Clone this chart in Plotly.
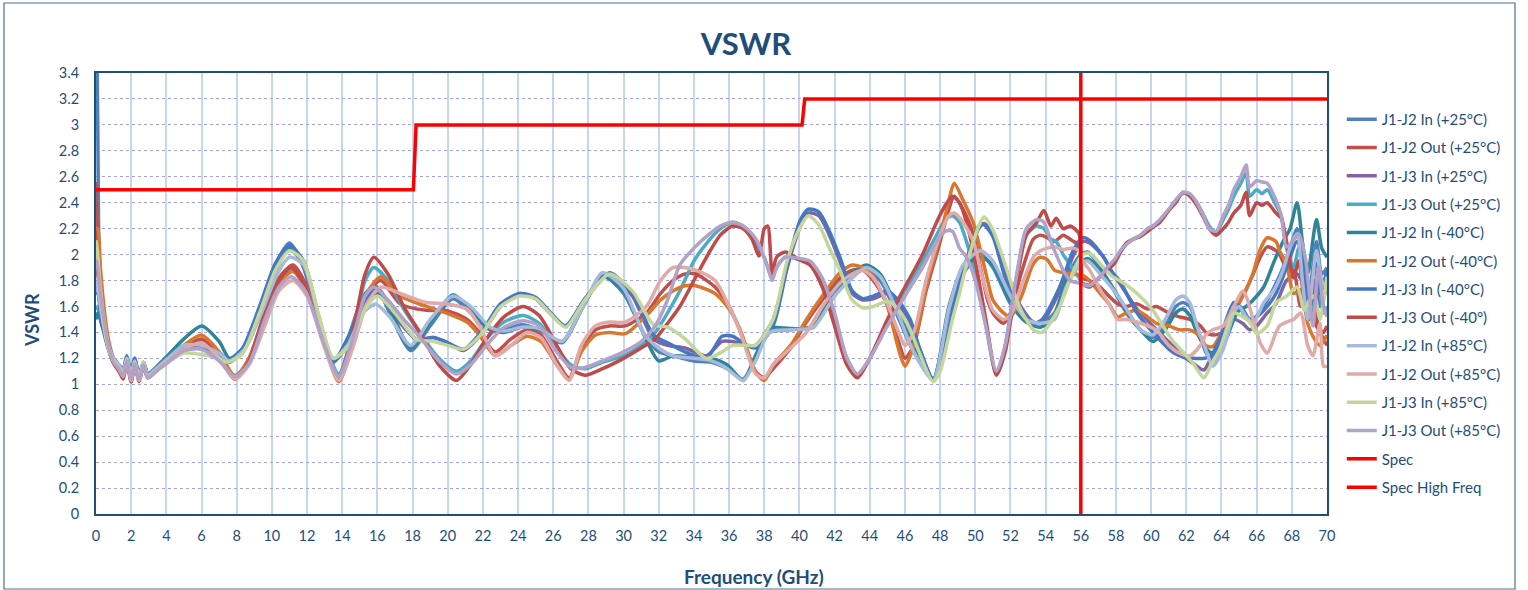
import plotly.graph_objects as go

# ---------------- data ----------------
freq_start = [0, 0.1, 0.25, 0.45, 0.7, 1.0, 1.3, 1.55, 1.75, 2.0, 2.2, 2.45, 2.7, 2.95, 3.4, 4.0, 5.0]

freq_j12_in = freq_start + [
    6.0, 7.0, 7.6, 8.5, 9.5, 10.3, 11.0, 11.8, 12.7, 13.5,
    14.3, 15.2, 15.9, 16.7, 17.9, 19.0, 20.3, 21.3, 22.4, 23.2,
    24.2, 25.2, 26.5, 27.7, 28.8, 30.0, 31.2, 32.0, 32.8, 34.0,
    35.0, 35.9, 36.8, 37.5, 38.3, 39.5, 40.8, 42.0, 43.0, 43.8,
    44.6, 45.5, 46.5, 47.6, 48.5, 49.3, 50.3, 51.0, 52.0, 52.9,
    53.7, 54.5, 55.2, 56.0, 56.4, 57.1, 57.9, 58.6, 59.4, 60.1,
    60.8, 61.4, 61.8, 62.2, 62.6, 63.1, 63.5, 64.1, 64.7, 65.0,
    65.4, 65.8, 66.4, 67.0, 67.5, 67.9, 68.3, 68.6, 68.9, 69.4,
    69.7, 70.0]

freq_j12_out = freq_start + [
    6.0, 7.0, 7.9, 8.7, 9.6, 10.4, 11.2, 12.0, 13.0, 13.8,
    14.6, 15.4, 16.2, 17.3, 18.8, 19.9, 21.1, 21.8, 22.7, 23.6,
    24.5, 25.3, 26.2, 26.9, 27.6, 28.4, 29.2, 30.1, 31.3, 32.1,
    32.8, 33.5, 34.1, 35.2, 36.0, 36.6, 37.5, 38.0, 38.5, 39.5,
    40.4, 41.3, 42.3, 43.0, 43.6, 44.2, 45.0, 45.7, 46.0, 46.5,
    47.2, 48.0, 48.5, 48.8, 49.3, 49.9, 50.3, 50.7, 51.0, 51.6,
    52.0, 52.6, 53.3, 53.7, 54.1, 54.5, 55.0, 55.6, 55.95, 56.1,
    56.5, 57.1, 57.6, 58.1, 58.6, 59.2, 59.8, 60.3, 61.0, 61.6,
    62.2, 62.8, 63.1, 63.5, 64.1, 64.7, 65.2, 65.4, 65.8, 66.2,
    66.6, 67.1, 67.3, 67.7, 68.1, 68.5, 68.9, 69.2, 69.6, 69.8,
    70.0]

freq_j13_in = freq_start + [
    6.0, 7.0, 7.4, 8.3, 9.3, 10.2, 11.0, 11.8, 12.7, 13.5,
    14.4, 15.3, 16.0, 17.0, 18.2, 19.2, 20.0, 20.9, 22.0, 23.0,
    24.1, 25.0, 25.8, 26.7, 27.8, 29.2, 30.5, 31.7, 32.5, 33.5,
    34.7, 35.6, 36.2, 37.0, 37.5, 38.5, 39.3, 40.0, 40.5, 41.1,
    41.7, 42.3, 43.0, 43.6, 44.2, 45.0, 45.6, 46.3, 46.8, 47.6,
    48.0, 48.7, 49.1, 49.5, 50.2, 50.5, 51.0, 51.8, 52.5, 53.3,
    53.8, 54.8, 55.6, 56.1, 56.5, 57.3, 57.8, 58.2, 59.2, 60.1,
    61.2, 62.0, 62.4, 63.0, 63.4, 63.9, 64.7, 65.2, 65.6, 66.0,
    66.6, 67.1, 67.7, 68.3, 68.7, 69.0, 69.3, 69.6, 70.0]

freq_j13_out = freq_start + [
    6.0, 7.0, 7.9, 8.7, 9.6, 10.4, 11.1, 11.9, 13.0, 13.8,
    14.6, 15.3, 15.8, 16.6, 17.5, 18.5, 19.5, 20.5, 21.3, 22.2,
    23.2, 24.3, 25.2, 26.2, 27.0, 27.8, 28.8, 30.0, 31.0, 31.8,
    32.5, 33.2, 34.0, 34.8, 35.5, 36.2, 36.8, 37.3, 37.7, 38.0,
    38.2, 38.45, 38.7, 39.2, 40.0, 40.6, 41.3, 42.0, 42.7, 43.3,
    44.0, 45.0, 46.0, 47.0, 47.8, 48.3, 48.7, 49.1, 49.5, 50.0,
    50.6, 51.2, 51.7, 52.3, 52.9, 53.5, 53.9, 54.3, 54.6, 55.0,
    55.4, 55.9, 56.05, 56.5, 57.1, 57.5, 57.9, 58.3, 58.6, 59.0,
    59.4, 59.8, 60.1, 60.5, 61.0, 61.4, 61.8, 62.2, 62.6, 63.0,
    63.3, 63.7, 64.1, 64.4, 64.7, 65.1, 65.4, 65.6, 66.0, 66.3,
    66.6, 67.1, 67.4, 67.7, 68.1, 68.4, 68.8, 69.2, 69.5, 69.8,
    70.0]

# J1-J2 In
j12_in_p25 = [4.2, 3.0, 1.6, 1.45, 1.3, 1.2, 1.15, 1.12, 1.22, 1.1, 1.2, 1.08, 1.17, 1.08, 1.12, 1.19, 1.3,
    1.33, 1.25, 1.17, 1.3, 1.65, 1.95, 2.09, 1.9, 1.45, 1.17,
    1.35, 1.68, 1.76, 1.55, 1.26, 1.45, 1.66, 1.55, 1.42, 1.42,
    1.46, 1.42, 1.32, 1.6, 1.84, 1.7, 1.38, 1.25, 1.22, 1.18,
    1.17, 1.12, 1.04, 1.2, 1.4, 1.42, 1.45, 1.7, 1.85, 1.88,
    1.8, 1.55, 1.25, 1.04, 1.55, 1.85, 2.0, 1.9, 1.62, 1.48,
    1.47, 1.55, 1.82, 2.0, 2.02, 1.9, 1.72, 1.55, 1.42, 1.36,
    1.45, 1.6, 1.63, 1.6, 1.45, 1.25, 1.17, 1.35, 1.63, 1.6,
    1.52, 1.5, 1.6, 1.75, 1.9, 2.05, 2.2, 1.9, 1.6, 2.1,
    1.85, 1.9]
j12_in_m40 = [1.5, 1.55, 1.5, 1.4, 1.28, 1.18, 1.14, 1.1, 1.2, 1.08, 1.18, 1.07, 1.16, 1.08, 1.13, 1.21, 1.35,
    1.45, 1.33, 1.2, 1.3, 1.6, 1.9, 2.05, 1.95, 1.5, 1.18,
    1.35, 1.62, 1.72, 1.58, 1.28, 1.48, 1.69, 1.58, 1.43, 1.4,
    1.44, 1.42, 1.33, 1.6, 1.83, 1.72, 1.37, 1.18, 1.22, 1.21,
    1.2, 1.15, 1.03, 1.22, 1.43, 1.43, 1.44, 1.74, 1.86, 1.92,
    1.85, 1.6, 1.3, 1.04, 1.6, 1.9, 1.98, 1.92, 1.64, 1.48,
    1.44, 1.52, 1.8, 1.94, 1.97, 1.88, 1.73, 1.57, 1.42, 1.33,
    1.42, 1.55, 1.58, 1.53, 1.4, 1.28, 1.24, 1.3, 1.5, 1.57,
    1.6, 1.65, 1.75, 1.95, 2.1, 2.2, 2.4, 2.1, 1.85, 2.27,
    2.05, 1.98]
j12_in_p85 = [1.8, 1.75, 1.6, 1.45, 1.3, 1.2, 1.15, 1.1, 1.2, 1.07, 1.18, 1.06, 1.16, 1.07, 1.12, 1.19, 1.3,
    1.3, 1.24, 1.18, 1.28, 1.58, 1.85, 1.98, 1.92, 1.5, 1.2,
    1.3, 1.55, 1.62, 1.52, 1.3, 1.5, 1.68, 1.6, 1.44, 1.41,
    1.44, 1.43, 1.33, 1.6, 1.86, 1.74, 1.38, 1.28, 1.22, 1.2,
    1.18, 1.12, 1.03, 1.18, 1.4, 1.42, 1.44, 1.68, 1.82, 1.9,
    1.83, 1.58, 1.25, 1.03, 1.58, 1.92, 2.03, 1.95, 1.68, 1.5,
    1.47, 1.5, 1.76, 1.93, 1.95, 1.85, 1.72, 1.58, 1.42, 1.38,
    1.5, 1.65, 1.68, 1.63, 1.45, 1.27, 1.14, 1.27, 1.55, 1.6,
    1.52, 1.47, 1.63, 1.73, 1.88, 2.06, 2.16, 1.8, 1.5, 2.03,
    1.8, 1.73]

# J1-J2 Out
j12_out_p25 = [2.56, 2.1, 1.7, 1.5, 1.3, 1.18, 1.12, 1.05, 1.18, 1.02, 1.15, 1.03, 1.14, 1.05, 1.1, 1.17, 1.28,
    1.35, 1.22, 1.04, 1.2, 1.55, 1.82, 1.92, 1.75, 1.3, 1.05,
    1.3, 1.7, 1.8, 1.62, 1.57, 1.57, 1.5, 1.4, 1.25, 1.35,
    1.42, 1.38, 1.18, 1.05, 1.28, 1.42, 1.45, 1.45, 1.55, 1.7,
    1.8, 1.85, 1.85, 1.75, 1.6, 1.42, 1.1, 1.05, 1.12, 1.28,
    1.48, 1.65, 1.82, 1.88, 1.88, 1.8, 1.62, 1.3, 1.2, 1.3,
    1.72, 2.1, 2.35, 2.45, 2.35, 2.15, 1.9, 1.65, 1.55, 1.47,
    1.55, 1.85, 2.12, 2.15, 2.13, 2.1, 2.15, 2.1, 2.08, 1.82,
    1.8, 1.75, 1.68, 1.62, 1.6, 1.62, 1.58, 1.6, 1.55, 1.52,
    1.5, 1.45, 1.4, 1.38, 1.4, 1.55, 1.68, 1.73, 1.85, 1.98,
    2.06, 2.03, 2.0, 1.9, 1.88, 1.6, 1.7, 1.5, 1.4, 1.35,
    1.3]
j12_out_m40 = [2.2, 2.2, 1.9, 1.6, 1.35, 1.2, 1.13, 1.08, 1.19, 1.04, 1.17, 1.04, 1.15, 1.06, 1.1, 1.18, 1.3,
    1.38, 1.25, 1.06, 1.2, 1.5, 1.78, 1.87, 1.72, 1.3, 1.02,
    1.3, 1.7, 1.83, 1.68, 1.6, 1.55, 1.48, 1.38, 1.22, 1.3,
    1.37, 1.33, 1.15, 1.04, 1.25, 1.38, 1.4, 1.39, 1.53, 1.65,
    1.72, 1.76, 1.76, 1.7, 1.58, 1.43, 1.1, 1.03, 1.15, 1.3,
    1.5, 1.68, 1.86, 1.92, 1.9, 1.83, 1.6, 1.24, 1.14, 1.3,
    1.75, 2.14, 2.42, 2.55, 2.42, 2.24, 2.03, 1.8, 1.65, 1.55,
    1.52, 1.67, 1.93, 1.98, 1.96, 1.88, 1.86, 1.85, 1.84, 1.84,
    1.8, 1.7, 1.62, 1.52, 1.55, 1.57, 1.52, 1.47, 1.45, 1.42,
    1.42, 1.37, 1.3, 1.29, 1.42, 1.55, 1.68, 1.73, 1.86, 2.04,
    2.13, 2.1, 2.03, 1.93, 1.7, 1.73, 1.47, 1.37, 1.3, 1.33,
    1.38]
j12_out_p85 = [2.0, 1.95, 1.75, 1.5, 1.3, 1.18, 1.12, 1.06, 1.18, 1.03, 1.16, 1.03, 1.15, 1.05, 1.1, 1.17, 1.27,
    1.32, 1.2, 1.04, 1.15, 1.45, 1.72, 1.8, 1.68, 1.28, 1.03,
    1.28, 1.62, 1.75, 1.7, 1.63, 1.62, 1.58, 1.45, 1.22, 1.3,
    1.4, 1.36, 1.15, 1.03, 1.3, 1.45, 1.48, 1.48, 1.6, 1.8,
    1.9, 1.9, 1.88, 1.8, 1.6, 1.42, 1.08, 1.05, 1.15, 1.28,
    1.4, 1.6, 1.78, 1.85, 1.88, 1.82, 1.62, 1.38, 1.3, 1.4,
    1.8, 2.15, 2.3, 2.32, 2.25, 2.1, 1.88, 1.68, 1.57, 1.5,
    1.53, 1.75, 1.98, 2.03, 2.05, 2.06, 2.04, 2.05, 2.02, 1.95,
    1.88, 1.73, 1.62, 1.5, 1.5, 1.48, 1.45, 1.42, 1.3, 1.24,
    1.22, 1.3, 1.38, 1.42, 1.45, 1.6, 1.72, 1.68, 1.5, 1.32,
    1.24, 1.4, 1.45, 1.48, 1.5, 1.55, 1.3, 1.22, 1.47, 1.14,
    1.14]

# J1-J3 In
j13_in_p25 = [1.8, 1.75, 1.6, 1.45, 1.3, 1.18, 1.13, 1.08, 1.2, 1.05, 1.19, 1.05, 1.16, 1.07, 1.1, 1.17, 1.26,
    1.28, 1.22, 1.18, 1.25, 1.55, 1.9, 2.04, 1.92, 1.5, 1.18,
    1.32, 1.6, 1.7, 1.52, 1.35, 1.36, 1.32, 1.26, 1.4, 1.6,
    1.7, 1.66, 1.55, 1.45, 1.65, 1.85, 1.68, 1.35, 1.3, 1.28,
    1.22, 1.33, 1.33, 1.3, 1.3, 1.5, 1.9, 2.2, 2.32, 2.3,
    2.15, 1.95, 1.7, 1.65, 1.66, 1.7, 1.62, 1.48, 1.28, 1.04,
    1.12, 1.55, 1.75, 1.95, 2.2, 2.24, 2.16, 1.82, 1.62, 1.48,
    1.48, 1.72, 2.0, 2.1, 2.09, 1.98, 1.86, 1.78, 1.58, 1.45,
    1.3, 1.2, 1.16, 1.11, 1.2, 1.3, 1.5, 1.47, 1.42, 1.45,
    1.55, 1.62, 1.8, 1.85, 1.75, 1.5, 1.8, 1.6, 1.75]
j13_in_m40 = [1.7, 1.7, 1.55, 1.42, 1.28, 1.2, 1.15, 1.1, 1.21, 1.06, 1.2, 1.06, 1.17, 1.08, 1.11, 1.18, 1.28,
    1.3, 1.22, 1.17, 1.27, 1.6, 1.93, 2.07, 1.95, 1.5, 1.17,
    1.35, 1.65, 1.74, 1.55, 1.35, 1.36, 1.32, 1.27, 1.42, 1.62,
    1.7, 1.67, 1.56, 1.45, 1.66, 1.86, 1.7, 1.38, 1.32, 1.25,
    1.2, 1.37, 1.37, 1.3, 1.28, 1.45, 1.9, 2.25, 2.35, 2.33,
    2.18, 1.98, 1.72, 1.66, 1.68, 1.72, 1.65, 1.5, 1.29, 1.04,
    1.14, 1.55, 1.78, 1.96, 2.22, 2.23, 2.14, 1.78, 1.6, 1.47,
    1.5, 1.75, 2.04, 2.13, 2.11, 1.98, 1.86, 1.8, 1.55, 1.4,
    1.25, 1.2, 1.2, 1.2, 1.22, 1.35, 1.63, 1.58, 1.5, 1.52,
    1.6, 1.7, 1.9, 2.1, 1.85, 1.55, 1.95, 1.7, 1.88]
j13_in_p85 = [2.11, 2.0, 1.7, 1.45, 1.28, 1.18, 1.13, 1.08, 1.19, 1.05, 1.17, 1.04, 1.17, 1.06, 1.1, 1.16, 1.24,
    1.23, 1.2, 1.17, 1.23, 1.55, 1.88, 2.03, 1.95, 1.52, 1.2,
    1.3, 1.58, 1.68, 1.55, 1.35, 1.33, 1.3, 1.27, 1.4, 1.6,
    1.68, 1.66, 1.55, 1.44, 1.65, 1.85, 1.72, 1.46, 1.44, 1.35,
    1.2, 1.25, 1.3, 1.3, 1.3, 1.5, 1.95, 2.2, 2.3, 2.23,
    2.05, 1.88, 1.65, 1.59, 1.6, 1.64, 1.58, 1.42, 1.25, 1.02,
    1.1, 1.5, 1.7, 1.92, 2.22, 2.29, 2.19, 1.88, 1.6, 1.42,
    1.4, 1.6, 1.88, 2.0, 2.01, 1.9, 1.83, 1.8, 1.7, 1.57,
    1.34, 1.22, 1.16, 1.05, 1.15, 1.27, 1.55, 1.52, 1.48, 1.39,
    1.45, 1.63, 1.68, 1.75, 1.57, 1.65, 1.68, 1.5, 1.83]

# J1-J3 Out
j13_out_p25 = [1.57, 1.6, 1.5, 1.4, 1.27, 1.17, 1.12, 1.07, 1.19, 1.04, 1.17, 1.04, 1.15, 1.06, 1.1, 1.16, 1.26,
    1.28, 1.2, 1.07, 1.18, 1.55, 1.8, 1.89, 1.75, 1.32, 1.08,
    1.4, 1.8, 1.9, 1.8, 1.58, 1.38, 1.2, 1.1, 1.18, 1.35,
    1.48, 1.53, 1.47, 1.28, 1.15, 1.12, 1.17, 1.22, 1.3, 1.4,
    1.55, 1.72, 1.95, 2.1, 2.2, 2.25, 2.22, 2.15, 2.05, 1.98,
    1.9, 1.82, 1.9, 1.98, 1.96, 1.93, 1.8, 1.5, 1.2, 1.07,
    1.2, 1.48, 1.72, 1.95, 2.15, 2.27, 2.3, 2.25, 2.1, 1.85,
    1.45, 1.08, 1.3, 1.8, 2.15, 2.22, 2.2, 2.12, 2.1, 2.0,
    1.92, 1.82, 1.78, 1.77, 1.83, 1.9, 1.95, 2.03, 2.08, 2.12,
    2.15, 2.2, 2.22, 2.26, 2.34, 2.42, 2.47, 2.46, 2.4, 2.3,
    2.22, 2.17, 2.27, 2.35, 2.45, 2.55, 2.63, 2.45, 2.5, 2.47,
    2.5, 2.38, 2.3, 2.05, 1.9, 2.05, 1.7, 1.6, 1.8, 1.55,
    1.6]
j13_out_m40 = [1.9, 1.85, 1.65, 1.45, 1.28, 1.16, 1.1, 1.04, 1.17, 1.02, 1.15, 1.02, 1.14, 1.05, 1.1, 1.17, 1.28,
    1.32, 1.2, 1.04, 1.18, 1.55, 1.8, 1.9, 1.75, 1.3, 1.05,
    1.4, 1.85, 1.98, 1.85, 1.6, 1.38, 1.15, 1.03, 1.15, 1.35,
    1.52, 1.6, 1.53, 1.3, 1.12, 1.07, 1.12, 1.2, 1.28, 1.35,
    1.47, 1.6, 1.8, 2.0, 2.15, 2.22, 2.2, 2.12, 1.99, 2.2,
    2.22, 1.85, 1.98, 2.02, 1.96, 1.92, 1.75, 1.45, 1.15, 1.05,
    1.2, 1.5, 1.75, 2.0, 2.25, 2.38, 2.45, 2.4, 2.25, 1.95,
    1.5, 1.07, 1.25, 1.75, 2.15, 2.25, 2.34, 2.22, 2.28, 2.2,
    2.22, 2.16, 1.78, 1.75, 1.83, 1.88, 1.93, 2.03, 2.09, 2.12,
    2.14, 2.18, 2.21, 2.25, 2.34, 2.4, 2.48, 2.45, 2.38, 2.28,
    2.2, 2.15, 2.2, 2.25, 2.32, 2.38, 2.48, 2.3, 2.4, 2.38,
    2.4, 2.32, 2.28, 2.1, 1.82, 1.95, 1.55, 1.75, 1.45, 1.4,
    1.45]
j13_out_p85 = [1.96, 1.9, 1.7, 1.5, 1.3, 1.17, 1.12, 1.06, 1.18, 1.04, 1.16, 1.03, 1.15, 1.05, 1.1, 1.16, 1.26,
    1.27, 1.18, 1.06, 1.16, 1.5, 1.75, 1.83, 1.72, 1.3, 1.06,
    1.35, 1.68, 1.75, 1.65, 1.5, 1.35, 1.18, 1.08, 1.15, 1.3,
    1.44, 1.49, 1.45, 1.25, 1.13, 1.13, 1.18, 1.25, 1.33, 1.45,
    1.65, 1.92, 2.05, 2.15, 2.22, 2.25, 2.22, 2.16, 2.08, 1.97,
    1.9, 1.8, 1.9, 1.98, 1.97, 1.95, 1.82, 1.55, 1.2, 1.08,
    1.2, 1.45, 1.68, 1.9, 2.1, 2.18, 2.18, 2.05, 1.98, 1.8,
    1.45, 1.1, 1.3, 1.8, 2.2, 2.27, 2.25, 2.1, 2.0, 1.88,
    1.8, 1.78, 1.77, 1.76, 1.83, 1.9, 1.96, 2.04, 2.08, 2.12,
    2.15, 2.2, 2.22, 2.27, 2.35, 2.42, 2.48, 2.47, 2.4, 2.29,
    2.2, 2.18, 2.3, 2.38, 2.5, 2.6, 2.69, 2.52, 2.57, 2.56,
    2.55, 2.42, 2.3, 2.06, 2.11, 2.16, 1.95, 1.45, 1.9, 1.6,
    1.52]

spec_freq = [0, 18.05, 18.2, 40.15, 40.3, 70]
spec_vswr = [2.5, 2.5, 3.0, 3.0, 3.2, 3.2]
hf_freq = [56, 56]
hf_vswr = [0, 3.4]

y_tick_vals = [0, 0.2, 0.4, 0.6, 0.8, 1, 1.2, 1.4, 1.6, 1.8, 2, 2.2, 2.4, 2.6, 2.8, 3, 3.2, 3.4]
y_tick_text = ["0", "0.2", "0.4", "0.6", "0.8", "1", "1.2", "1.4", "1.6", "1.8", "2",
               "2.2", "2.4", "2.6", "2.8", "3", "3.2", "3.4"]
x_tick_vals = list(range(0, 71, 2))

series = [
    ("J1-J2 In (+25°C)", freq_j12_in, j12_in_p25, "#4f81bd"),
    ("J1-J2 Out (+25°C)", freq_j12_out, j12_out_p25, "#c0504d"),
    ("J1-J3 In (+25°C)", freq_j13_in, j13_in_p25, "#8064a2"),
    ("J1-J3 Out (+25°C)", freq_j13_out, j13_out_p25, "#4bacc6"),
    ("J1-J2 In (-40°C)", freq_j12_in, j12_in_m40, "#2f8597"),
    ("J1-J2 Out (-40°C)", freq_j12_out, j12_out_m40, "#d9772e"),
    ("J1-J3 In (-40°C)", freq_j13_in, j13_in_m40, "#4577c2"),
    ("J1-J3 Out (-40°)", freq_j13_out, j13_out_m40, "#be4b48"),
    ("J1-J2 In (+85°C)", freq_j12_in, j12_in_p85, "#a6bbdc"),
    ("J1-J2 Out (+85°C)", freq_j12_out, j12_out_p85, "#e0aaa8"),
    ("J1-J3 In (+85°C)", freq_j13_in, j13_in_p85, "#c3d69b"),
    ("J1-J3 Out (+85°C)", freq_j13_out, j13_out_p85, "#b3a2c7"),
]

for name, fx, fy, _c in series:
    if len(fx) != len(fy):
        raise ValueError(f"{name}: {len(fx)} freqs vs {len(fy)} values")

NAVY = "#1f4e79"
FONT = "Lato, Carlito, Calibri, sans-serif"

fig = go.Figure()
for name, fx, fy, col in series:
    fig.add_trace(go.Scatter(
        x=fx, y=fy, mode="lines", name=name, legendgroup=name,
        line=dict(color=col, width=3.5, shape="spline", smoothing=0.7),
        hoverinfo="skip"))

fig.add_trace(go.Scatter(x=spec_freq, y=spec_vswr, mode="lines", name="Spec",
                         legendgroup="Spec", line=dict(color="#ff0000", width=3.5)))
fig.add_trace(go.Scatter(x=hf_freq, y=hf_vswr, mode="lines", name="Spec High Freq",
                         legendgroup="Spec High Freq", line=dict(color="#ff0000", width=3.5)))

fig.update_layout(
    width=1528, height=590,
    margin=dict(l=96, r=201, t=73, b=76),
    paper_bgcolor="white", plot_bgcolor="white",
    font=dict(family=FONT, color=NAVY, size=14),
    title=dict(text="VSWR", x=746 / 1528, xref="container", xanchor="center",
               y=1 - 44 / 590, yref="container", yanchor="middle",
               font=dict(family=FONT, size=31, color=NAVY, weight="bold")),
    showlegend=True,
    legend=dict(x=1.012, y=0.932, xanchor="left", yanchor="top",
                font=dict(family=FONT, size=15, color=NAVY),
                tracegroupgap=5.8, bgcolor="rgba(0,0,0,0)", itemwidth=30),
    xaxis=dict(range=[0, 70], tickvals=x_tick_vals, ticks="", showgrid=True,
               gridcolor="#c8d6ec", gridwidth=1.6, zeroline=False,
               showline=True, linecolor=NAVY, linewidth=2, mirror=True,
               tickfont=dict(family=FONT, size=14.5, color=NAVY), ticklabelstandoff=8),
    yaxis=dict(range=[0, 3.4], tickvals=y_tick_vals, ticktext=y_tick_text, ticks="",
               showgrid=True, gridcolor="#a2a2ee", gridwidth=1.2, griddash="dot",
               zeroline=False, showline=True, linecolor=NAVY, linewidth=2, mirror=True,
               tickfont=dict(family=FONT, size=14.5, color=NAVY), ticklabelstandoff=12),
    annotations=[
        dict(text="<b>Frequency (GHz)</b>", x=(754 - 96) / 1231, y=(514 - 576) / 441,
             xref="paper", yref="paper", showarrow=False, xanchor="center", yanchor="middle",
             font=dict(family=FONT, size=19, color=NAVY)),
        dict(text="<b>VSWR</b>", x=(32 - 96) / 1231, y=(514 - 320) / 441, textangle=-90,
             xref="paper", yref="paper", showarrow=False, xanchor="center", yanchor="middle",
             font=dict(family=FONT, size=18, color=NAVY)),
    ],
    shapes=[dict(type="rect", xref="paper", yref="paper",
                 x0=(4 - 96) / 1231, x1=(1515 - 96) / 1231,
                 y0=(514 - 589) / 441, y1=(514 - 3) / 441,
                 line=dict(color="#4f6f8f", width=1.2), fillcolor="rgba(0,0,0,0)", layer="below")],
)

# remove the browser's default 8px body margin so the figure sits at the page origin
fig.write_html("out.html", config={"displayModeBar": False},
               post_script="document.body.style.margin='0px';")
